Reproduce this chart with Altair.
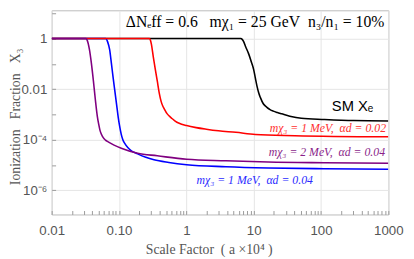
import altair as alt
import pandas as pd

# ---- curve data (scale factor a x 10^4, ionization fraction) ----
sm_a = [0.01, 6.43, 6.75, 7.1, 7.60, 8.40, 9.29, 10.0, 10.6, 11.2, 11.9, 12.6, 13.9, 15.7,
        17.5, 19.5, 22.5, 26.1, 34.4, 51, 112, 306, 1000]
sm_x = [1, 1, 0.93, 0.75, 0.475, 0.254, 0.113, 0.059, 0.027, 0.0132, 7.0e-3, 4.6e-3, 2.63e-3,
        1.9e-3, 1.55e-3, 1.35e-3, 1.18e-3, 1.05e-3, 8.5e-4, 7.0e-4, 6.3e-4, 5.7e-4, 5.5e-4]

red_a = [0.01, 0.283, 0.292, 0.302, 0.323, 0.346, 0.370, 0.396, 0.423, 0.445, 0.468, 0.517,
         0.56, 0.612, 0.66, 0.724, 0.85, 1.01, 1.4, 1.98, 3.0, 5.43, 10.6, 40.8, 1000]
red_x = [1, 1, 0.88, 0.62, 0.19, 0.06, 0.021, 7.0e-3, 3.2e-3, 2.2e-3, 1.7e-3, 1.07e-3,
         8.5e-4, 6.9e-4, 5.8e-4, 4.9e-4, 4.1e-4, 3.6e-4, 3.0e-4, 2.6e-4, 2.25e-4, 1.95e-4,
         1.6e-4, 1.44e-4, 1.3e-4]

blue_a = [0.01, 0.0634, 0.0678, 0.0726, 0.0771, 0.0816, 0.0864, 0.0918, 0.0975, 0.102, 0.108,
          0.114, 0.121, 0.135, 0.151, 0.189, 0.25, 0.331, 0.55, 1.01, 3.88, 16.4, 112, 1000]
blue_x = [1, 1, 0.74, 0.363, 0.104, 0.0296, 9.2e-3, 2.63e-3, 7.5e-4, 3.5e-4, 1.63e-4,
          1.0e-4, 7.3e-5, 4.9e-5, 3.7e-5, 2.74e-5, 2.0e-5, 1.59e-5, 1.25e-5, 1.02e-5, 8.5e-6,
          7.6e-6, 7.1e-6, 6.8e-6]

purple_a = [0.01, 0.0324, 0.0335, 0.0364, 0.0389, 0.0417, 0.0447, 0.0477, 0.0500, 0.0522, 0.055,
            0.0583, 0.063, 0.069, 0.0844, 0.108, 0.189, 0.37, 1.01, 3.88, 16.4, 112, 1000]
purple_x = [1, 1, 0.89, 0.363, 0.104, 0.0207, 3.46e-3, 8.2e-4, 4.0e-4, 2.34e-4, 1.6e-4,
            1.2e-4, 9.6e-5, 8.2e-5, 6.1e-5, 4.55e-5, 2.9e-5, 2.3e-5, 1.67e-5, 1.46e-5, 1.3e-5,
            1.22e-5, 1.17e-5]

# ---- axis ticks ----
x_major = [0.01, 0.1, 1, 10, 100, 1000]
x_major_labels = ["0.01", "0.10", "1", "10", "100", "1000"]
y_major = [1, 0.01, 1e-4, 1e-6]
y_major_labels = ["1", "0.01", "10\u207b\u2074", "10\u207b\u2076"]
x_minor_mult = [2, 3, 4, 5, 6, 7, 8, 9]
y_minor = [10, 0.1, 1e-3, 1e-5]

# ---- annotations ----
header_text = ["\u0394N\u2091ff = 0.6\u2002 m\u03c7\u2081 = 25 GeV\u2002n\u2083/n\u2081 = 10%"]
header_a = [10.5]
header_v = [4.47]
sm_label = ["SM X\u2091"]
sm_label_a = [598]
sm_label_v = [2.2e-3]
red_label = ["m\u03c7\u2083 = 1 MeV,\u2002\u03b1d = 0.02"]
red_label_a = [925]
red_label_v = [2.93e-4]
purple_label = ["m\u03c7\u2083 = 2 MeV,\u2002\u03b1d = 0.04"]
purple_label_a = [895]
purple_label_v = [3.12e-5]
blue_label = ["m\u03c7\u2083 = 1 MeV,\u2002\u03b1d = 0.04"]
blue_label_a = [1.416]
blue_label_v = [2.43e-6]

x_ticks = sorted(set(x_major + [m * 10.0 ** e for e in range(-2, 3) for m in x_minor_mult]))
y_ticks = sorted(set(y_major + y_minor))


def label_expr(vals, labels):
    parts = [f"datum.value == {v!r} ? '{l}'" for v, l in zip(vals, labels)]
    return " : ".join(parts) + " : ''"


x_test = "indexof([" + ",".join(repr(v) for v in x_major) + "], datum.value) >= 0"
y_test = "indexof([" + ",".join(repr(v) for v in y_major) + "], datum.value) >= 0"

GRID = "#e4e4e4"
LABEL_COLOR = "#555555"

xscale = alt.Scale(type="log", domain=[0.01, 1000], nice=False)
yscale = alt.Scale(type="log", domain=[1.1e-7, 13.1], nice=False)

xaxis = alt.Axis(
    values=x_ticks, labelExpr=label_expr(x_major, x_major_labels),
    offset=-4, tickSize=4, tickColor="#9a9a9a", domain=False,
    grid=True, gridColor={"condition": {"test": x_test, "value": GRID}, "value": "transparent"},
    labelFont="Liberation Sans", labelFontSize=13.5, labelColor=LABEL_COLOR,
    labelPadding=9, labelFlush=False, labelOverlap=False,
    title="Scale Factor\u2002( a \u00d710\u2074 )", titleFont="Liberation Serif", titleFontSize=14,
    titleColor=LABEL_COLOR, titleFontWeight="normal", titleX=160, titleY=40,
    titleBaseline="middle", titleAlign="center",
)
yaxis = alt.Axis(
    values=y_ticks, labelExpr=label_expr(y_major, y_major_labels),
    offset=-4, tickSize=4, tickColor="#9a9a9a", domain=False,
    grid=True, gridColor={"condition": {"test": y_test, "value": GRID}, "value": "transparent"},
    labelFont="Liberation Sans", labelFontSize=13.5, labelColor=LABEL_COLOR,
    labelPadding=5, labelFlush=False, labelOverlap=False,
    title="Ionization\u2002 Fraction\u2002 X\u2083", titleFont="Liberation Serif", titleFontSize=14,
    titleColor=LABEL_COLOR, titleFontWeight="normal", titleX=-40.5, titleY=108,
    titleBaseline="middle", titleAlign="center", titleAngle=270,
)


def enc(chart):
    return chart.encode(
        x=alt.X("a:Q", scale=xscale, axis=xaxis),
        y=alt.Y("v:Q", scale=yscale, axis=yaxis),
    )


def line_layer(a, v, color):
    df = pd.DataFrame({"a": a, "v": v})
    return enc(alt.Chart(df).mark_line(color=color, strokeWidth=1.6,
                                       interpolate="monotone", clip=True))


def text_layer(t, a, v, color, font, size, align, style="normal"):
    df = pd.DataFrame({"t": t, "a": a, "v": v})
    return enc(alt.Chart(df).mark_text(color=color, font=font, fontSize=size, align=align,
                                       baseline="middle", fontStyle=style)).encode(text="t:N")


chart = alt.layer(
    line_layer(sm_a, sm_x, "#000000"),
    line_layer(blue_a, blue_x, "#0000ff"),
    line_layer(red_a, red_x, "#ff0000"),
    line_layer(purple_a, purple_x, "#800080"),
    text_layer(header_text, header_a, header_v, "#000000", "Liberation Serif", 16, "center"),
    text_layer(sm_label, sm_label_a, sm_label_v, "#000000", "Liberation Sans", 15, "right"),
    text_layer(red_label, red_label_a, red_label_v, "#ff3030", "Liberation Serif", 12, "right", "italic"),
    text_layer(purple_label, purple_label_a, purple_label_v, "#8a1f8a", "Liberation Serif", 12, "right", "italic"),
    text_layer(blue_label, blue_label_a, blue_label_v, "#2a2aff", "Liberation Serif", 12, "left", "italic"),
).properties(
    width=343, height=208,
    autosize=alt.AutoSizeParams(type="none"),
    padding={"left": 44.5, "top": 0, "right": 18, "bottom": 42},
).configure_view(stroke="#bbbbbb", strokeWidth=1)

chart.save("out.html", embed_options={"renderer": "svg", "actions": False})
